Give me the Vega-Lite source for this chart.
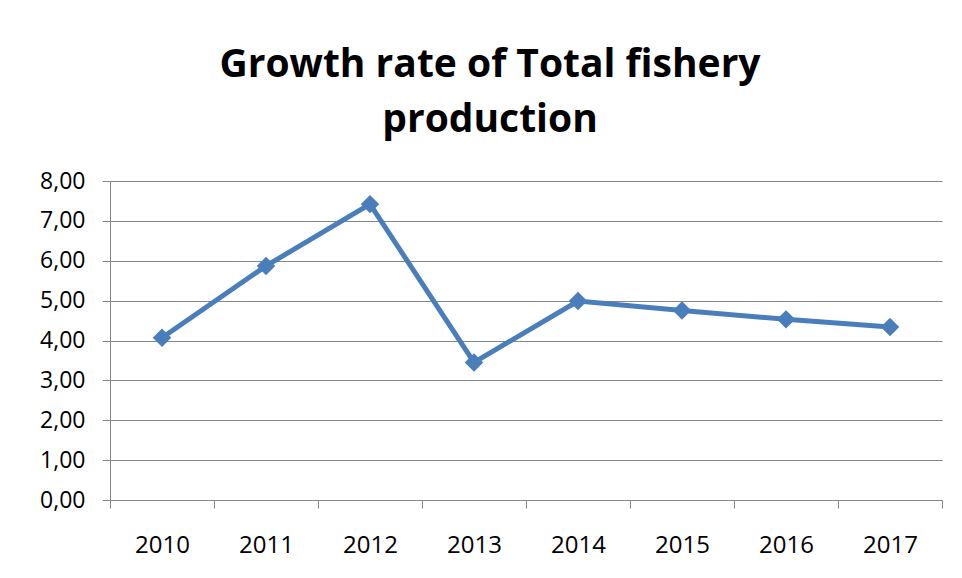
{
  "$schema": "https://vega.github.io/schema/vega-lite/v6.json",
  "width": 832,
  "height": 319,
  "autosize": {"type": "none"},
  "padding": {"left": 110, "top": 181, "right": 20, "bottom": 78},
  "background": "white",
  "title": {
    "text": ["Growth rate of Total fishery", "production"],
    "font": "Open Sans",
    "fontSize": 39,
    "fontWeight": "bold",
    "color": "black",
    "anchor": "middle",
    "frame": "group",
    "dx": -36,
    "offset": 30,
    "lineHeight": 55
  },
  "data": {
    "values": [
      {"year": "2010", "rate": 4.07},
      {"year": "2011", "rate": 5.87},
      {"year": "2012", "rate": 7.42},
      {"year": "2013", "rate": 3.45},
      {"year": "2014", "rate": 4.99},
      {"year": "2015", "rate": 4.75},
      {"year": "2016", "rate": 4.53},
      {"year": "2017", "rate": 4.34}
    ]
  },
  "encoding": {
    "x": {
      "field": "year",
      "type": "ordinal",
      "bandPosition": 0.5,
      "scale": {"type": "band", "paddingInner": 0, "paddingOuter": 0},
      "axis": {
        "title": null,
        "labelAngle": 0,
        "grid": false,
        "tickBand": "extent",
        "domainColor": "#868686",
        "tickColor": "#868686",
        "tickSize": 8,
        "labelFont": "Open Sans",
        "labelFontSize": 24,
        "labelColor": "black",
        "labelBaseline": "alphabetic",
        "labelPadding": 44
      }
    },
    "y": {
      "field": "rate",
      "type": "quantitative",
      "scale": {"domain": [0, 8], "nice": false},
      "axis": {
        "title": null,
        "values": [0, 1, 2, 3, 4, 5, 6, 7, 8],
        "grid": true,
        "gridColor": "#868686",
        "gridOpacity": 1,
        "domainColor": "#868686",
        "tickColor": "#868686",
        "tickSize": 8,
        "labelFont": "Open Sans",
        "labelFontSize": 23,
        "labelColor": "black",
        "labelPadding": 17,
        "labelExpr": "replace(format(datum.value, '.2f'), '.', ',')"
      }
    }
  },
  "layer": [
    {"mark": {"type": "line", "color": "#4A7EBB", "strokeWidth": 5}},
    {"mark": {"type": "point", "shape": "diamond", "filled": true, "opacity": 1, "size": 340, "color": "#4A7EBB"}}
  ],
  "config": {"view": {"stroke": null}}
}
